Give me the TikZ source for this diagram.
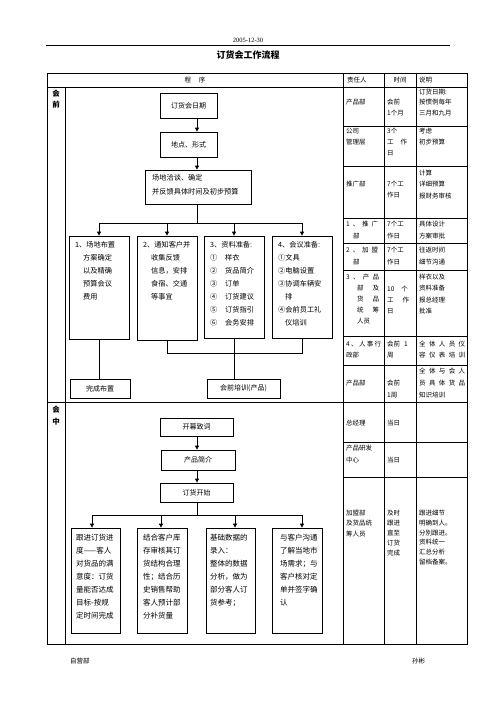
\documentclass[tikz,border=0pt]{standalone}
\usepackage{fontspec}
\setmainfont{Noto Sans CJK SC}
\newfontfamily\latinserif{Liberation Serif}
\usetikzlibrary{arrows.meta}
\def\sploop#1{\ifx\relax#1\else\hfil#1\expandafter\sploop\fi}
\def\spstart#1{#1\sploop}
\newcommand\spr[2]{\makebox[#1][s]{\spstart#2\relax}}
\newcommand\tlines[6][rc]{\foreach \t [count=\i from 0] in {#6}{\node[#1,anchor=west] (#2-\i) at (#3,{#4+\i*#5}) {\t};}}
\begin{document}
\begin{tikzpicture}[x=1pt,y=-1pt,
  tline/.style={line width=0.7pt},
  box/.style={draw, line width=0.8pt, inner sep=0pt, font=\fontsize{7}{8}\selectfont},
  rc/.style={inner sep=0pt, font=\fontsize{6.5}{7}\selectfont},
  bt/.style={inner sep=0pt, font=\fontsize{7.2}{8}\selectfont},
  bm/.style={inner sep=0pt, font=\fontsize{7.5}{8}\selectfont},
  lab/.style={inner sep=0pt, font=\fontsize{7.5}{8}\selectfont\bfseries},
  arr/.style={line width=0.8pt, -{Triangle[length=4pt,width=4pt]}},
  ln/.style={line width=0.8pt}]
\useasboundingbox (0,0) rectangle (496,702);
\fill[white] (0,0) rectangle (496,702);

% header
\node[font=\latinserif\fontsize{6.5}{7}\selectfont, inner sep=0pt] (date) at (248,40) {2005-12-30};
\draw[line width=0.8pt] (46,45) -- (450,45);
\node[font=\fontsize{9}{10}\selectfont\bfseries, inner sep=0pt] (title) at (248,55) {订货会工作流程};

% table frame
\draw[tline] (47,73) rectangle (467,644);
\draw[tline] (47,87) -- (467,87);
\draw[tline] (65,87) -- (65,644);
\foreach \x in {343,384,416} \draw[tline] (\x,73) -- (\x,644);
\draw[tline] (47,402) -- (467,402);
\foreach \y in {126,166,218,243,270,336,365,442,477} \draw[tline] (343,\y) -- (467,\y);

% header row
\node[rc] (h0) at (195,80) {程\hspace{8pt}序};
\node[rc,anchor=west] (h1) at (347,80) {责任人};
\node[rc] (h2) at (400,80) {时间};
\node[rc,anchor=west] (h3) at (419,80) {说明};

% section labels
\node[lab] (l1) at (56,94) {会};
\node[lab] (l2) at (56,105) {前};
\node[lab] (l3) at (56,410) {会};
\node[lab] (l4) at (56,422) {中};

% right columns, before meeting
\tlines{r1a}{346}{102}{11}{产品部}
\tlines{r1b}{387}{102}{11}{会前,1个月}
\tlines{r1c}{419}{92}{10.5}{订货日期:,按惯例每年,三月和九月}
\tlines{r2a}{346}{131}{11}{公司,管理层}
\tlines{r2b}{387}{131}{11}{3个,\spr{20pt}{工作},日}
\tlines{r2c}{419}{131}{11}{考虑,初步预算}
\tlines{r3a}{346}{184}{11}{推广部}
\tlines{r3b}{387}{184}{11.5}{7个工,作日}
\tlines{r3c}{419}{173}{11.5}{计算,详细预算,报财务审核}
\tlines{r4a}{346}{224}{12}{\spr{32pt}{1、推广}}
\tlines{r4x}{353}{236}{12}{部}
\tlines{r4b}{387}{224}{12}{7个工,作日}
\tlines{r4c}{419}{224}{12}{具体设计,方案审批}
\tlines{r5a}{346}{250}{12}{\spr{32pt}{2、加盟}}
\tlines{r5x}{353}{262}{12}{部}
\tlines{r5b}{387}{250}{12}{7个工,作日}
\tlines{r5c}{419}{250}{12}{往返时间,细节沟通}
\tlines{r6a}{346}{277}{11}{\spr{33pt}{3、产品}}
\tlines{r6x}{357}{288}{11}{\spr{22pt}{部及},\spr{22pt}{货品},\spr{22pt}{统筹},人员}
\tlines{r6b}{387}{289}{11}{10\hspace{7pt}个,\spr{22pt}{工作},日}
\tlines{r6c}{419}{277}{11.3}{样衣以及,资料准备,报总经理,批准}
\tlines{r7a}{346}{344}{11}{\spr{35pt}{4、人事行},政部}
\tlines{r7b}{387}{344}{11}{会前\hspace{4pt}1,周}
\tlines{r7c}{419}{344}{11}{\spr{46pt}{全体人员仪},\spr{46pt}{容仪表培训}}
\tlines{r8a}{346}{383}{12}{产品部}
\tlines{r8b}{387}{383}{12}{会前,1周}
\tlines{r8c}{419}{371}{12}{\spr{46pt}{全体与会人},\spr{46pt}{员具体货品},知识培训}

% right columns, during meeting
\tlines{r9a}{346}{423}{11}{总经理}
\tlines{r9b}{387}{423}{11}{当日}
\tlines{r10a}{346}{448}{12}{产品研发,中心}
\tlines{r10b}{387}{460}{12}{当日}
\tlines{r11a}{346}{513}{10.5}{加盟部,及货品统,筹人员}
\tlines{r11b}{387}{513}{10}{及时,跟进,直至,订货,完成}
\tlines{r11c}{419}{513}{9.8}{跟进细节,明确到人。,分别跟进。,资料统一,汇总分析,留档备案。}

% flow before meeting
\node[box, minimum width=57pt, minimum height=25pt] (d1) at (188.5,105.5) {订货会日期};
\node[box, minimum width=57pt, minimum height=25pt] (d2) at (188.5,144.5) {地点、形式};
\node[box, minimum width=106pt, minimum height=34pt] (d3) at (198,187) {};
\tlines[bt]{d3t}{152}{178}{14}{场地洽谈、确定,并反馈具体时间及初步预算}

\node[box, minimum width=60pt, minimum height=103pt] (s1) at (99,287.5) {};
\node[box, minimum width=60pt, minimum height=104pt] (s2) at (167,288) {};
\node[box, minimum width=60pt, minimum height=102pt] (s3) at (234,287) {};
\node[box, minimum width=60pt, minimum height=102pt] (s4) at (302,287) {};
\tlines[bt]{s1t}{75}{245}{13}{1、场地布置}
\tlines[bt]{s1u}{83}{258}{13}{方案确定,以及精确,预算会议,费用}
\tlines[bt]{s2t}{143}{245}{13}{2、通知客户并}
\tlines[bt]{s2u}{151}{258}{13}{收集反馈,信息，安排,食宿、交通,等事宜}
\tlines[bt]{s3t}{210}{245}{13}{3、资料准备:}
\tlines[bt]{s3n}{210}{258}{13}{①,②,③,④,⑤,⑥}
\tlines[bt]{s3u}{225}{258}{13}{样衣,货品简介,订单,订货建议,订货指引,会务安排}
\tlines[bt]{s4t}{278}{245}{13}{4、会议准备:,①文具,②电脑设置,③协调车辆安}
\tlines[bt]{s4u}{285}{297}{13}{排}
\tlines[bt]{s4v}{278}{310}{13}{④会前员工礼}
\tlines[bt]{s4w}{285}{323}{13}{仪培训}

\node[box, minimum width=60pt, minimum height=19pt] (f1) at (100,388.5) {完成布置};
\node[box, minimum width=73pt, minimum height=19pt] (f2) at (243.5,388.5) {会前培训(产品)};

\coordinate (ax) at (197,0);
\draw[arr] (d1.south -| ax) -- (d2.north -| ax);
\draw[arr] (d2.south -| ax) -- (d3.north -| ax);
\coordinate (j1) at (197,223);
\draw[ln] (d3.south -| ax) -- (j1);
\draw[arr] (j1) -| (s1.north);
\draw[arr] (j1) -| (s2.north);
\draw[arr] (j1) -| (s3.north);
\draw[arr] (j1) -| (s4.north);
\draw[ln] (s1.south) -- (s1.south |- f1.north);
\coordinate (j2) at (234,353);
\draw[ln] (s2.south) |- (j2);
\draw[ln] (s4.south) |- (j2);
\draw[ln] (s3.south) -- (s3.south |- f2.north);

% flow during meeting
\node[box, minimum width=73pt, minimum height=18pt] (m1) at (196.5,427) {开幕致词};
\node[box, minimum width=74pt, minimum height=20pt] (m2) at (198,460) {产品简介};
\node[box, minimum width=73pt, minimum height=19pt] (m3) at (196.5,492.5) {订货开始};
\draw[arr] (m1.south -| ax) -- (m2.north -| ax);
\draw[arr] (m2.south -| ax) -- (m3.north -| ax);
\coordinate (j3) at (197,515);
\draw[ln] (m3.south -| ax) -- (j3);

\node[box, minimum width=49pt, minimum height=105pt] (A) at (95.5,580.5) {};
\node[box, minimum width=50pt, minimum height=105pt] (B) at (162,580.5) {};
\node[box, minimum width=49pt, minimum height=105pt] (C) at (230.5,580.5) {};
\node[box, minimum width=50pt, minimum height=105pt] (D) at (297,580.5) {};
\draw[arr] (j3) -| ([xshift=-3.5pt]A.north);
\draw[arr] (j3) -| ([xshift=-1pt]B.north);
\draw[arr] (j3) -| ([xshift=4.5pt]C.north);
\draw[arr] (j3) -| ([xshift=5pt]D.north);
\tlines[bm]{At}{76}{538}{13}{跟进订货进,度——客人,对货品的满,意度：订货,量能否达成,目标-按规,定时间完成}
\tlines[bm]{Bt}{143}{538}{13}{结合客户库,存审核其订,货结构合理,性；结合历,史销售帮助,客人预计部,分补货量}
\tlines[bm]{Ct}{210}{538}{13}{基础数据的,录入：,整体的数据,分析，做为,部分客人订,货参考；}
\tlines[bm]{Dt}{280}{538}{13}{与客户沟通,了解当地市,场需求；与,客户核对定,单并签字确,认}

% footer
\node[rc,anchor=west] (ft1) at (70,661) {自营部};
\node[rc,anchor=west] (ft2) at (412,661) {孙彬};
\end{tikzpicture}
\end{document}
